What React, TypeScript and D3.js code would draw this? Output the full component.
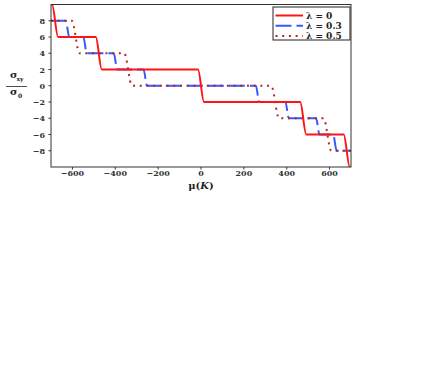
import React from 'react';
import * as d3 from 'd3';

// plateau values and step centres (mu, in K) for each lambda
const muRange = [-700, 700];
const sigmaRange = [-10, 10];

const redLevels = [10, 6, 2, -2, -6, -10];
const redSteps = [-681, -477, 0, 477, 680];

const blueLevels = [8, 6, 4, 2, 0, -2, -4, -6, -8];
const blueSteps = [-623, -541, -399, -260, 264, 402, 545, 625];

const dotLevels = [8, 4, 0, -4, -8];
const dotSteps = [-585, -340, 346, 590];

const xTicks = [-600, -400, -200, 0, 200, 400, 600];
const yTicks = [-8, -6, -4, -2, 0, 2, 4, 6, 8];

const legendLabels = ['λ = 0', 'λ = 0.3', 'λ = 0.5'];

const W = 436;
const H = 382;
const left = 51, right = 351, top = 4.5, bottom = 167;

const font = '"DejaVu Serif", "Liberation Serif", serif';

function stepPoints(levels: number[], steps: number[], half: number): [number, number][] {
  const pts: [number, number][] = [[muRange[0], levels[0]]];
  steps.forEach((c, i) => {
    pts.push([c - half, levels[i]]);
    pts.push([c + half, levels[i + 1]]);
  });
  pts.push([muRange[1], levels[levels.length - 1]]);
  return pts;
}

export default function App() {
  const x = d3.scaleLinear().domain(muRange).range([left, right]);
  const y = d3.scaleLinear().domain(sigmaRange).range([bottom, top]);

  const line = d3.line<[number, number]>()
    .x(d => x(d[0]))
    .y(d => y(d[1]))
    .curve(d3.curveMonotoneX);

  const series = [
    { pts: stepPoints(blueLevels, blueSteps, 8), color: '#3559ff', dash: '16,5', width: 2 },
    { pts: stepPoints(dotLevels, dotSteps, 18), color: '#b52424', dash: '2,4.7', width: 2 },
    { pts: stepPoints(redLevels, redSteps, 14), color: '#ff1414', dash: null, width: 2 },
  ];

  const legend = [
    { color: '#ff1414', dash: null },
    { color: '#3559ff', dash: '16,5' },
    { color: '#b52424', dash: '2,4.7' },
  ];

  return (
    <svg width={W} height={H} style={{ position: 'absolute', left: 0, top: 0, background: '#fff' }}
      fontFamily={font}>
      <defs>
        <clipPath id="plot">
          <rect x={left} y={top} width={right - left} height={bottom - top} />
        </clipPath>
      </defs>

      <g clipPath="url(#plot)">
        {series.map((s, i) => (
          <path key={i} d={line(s.pts) || ''} fill="none" stroke={s.color}
            strokeWidth={s.width} strokeDasharray={s.dash || undefined} />
        ))}
      </g>

      <rect x={left} y={top} width={right - left} height={bottom - top}
        fill="none" stroke="#333" strokeWidth={1} />

      {xTicks.map(t => (
        <g key={t}>
          <line x1={x(t)} x2={x(t)} y1={bottom} y2={bottom + 2.5} stroke="#333" />
          <text x={x(t)} y={176} textAnchor="middle" fontSize={8} fontWeight="bold" fill="#333">
            {t < 0 ? '\u2212' + Math.abs(t) : t}
          </text>
        </g>
      ))}
      {yTicks.map(t => (
        <g key={t}>
          <line x1={left - 2.5} x2={left} y1={y(t)} y2={y(t)} stroke="#333" />
          <text x={45} y={y(t) + 3} textAnchor="end" fontSize={8} fontWeight="bold" fill="#333">
            {t < 0 ? '\u2212' + Math.abs(t) : t}
          </text>
        </g>
      ))}

      <text x={201} y={189} textAnchor="middle" fontSize={10} fontWeight="bold" fill="#222">
        μ(<tspan fontStyle="italic">K</tspan>)
      </text>

      <g fontWeight="bold" fill="#222">
        <text x={10} y={78} fontSize={10}>σ</text>
        <text x={16.5} y={81} fontSize={6}>xy</text>
        <line x1={6} x2={27} y1={86.5} y2={86.5} stroke="#222" strokeWidth={0.8} />
        <text x={10} y={95} fontSize={10}>σ</text>
        <text x={18} y={98} fontSize={6}>0</text>
      </g>

      <rect x={273} y={7} width={77} height={33} fill="#fff" stroke="#222" strokeWidth={1} />
      {legend.map((l, i) => {
        const ly = 15.5 + i * 10.3;
        return (
          <g key={i}>
            <line x1={275.5} x2={303} y1={ly} y2={ly} stroke={l.color} strokeWidth={2}
              strokeDasharray={l.dash || undefined} />
            <text x={306} y={ly + 3} fontSize={9} fontWeight="bold" fill="#222">{legendLabels[i]}</text>
          </g>
        );
      })}
    </svg>
  );
}
